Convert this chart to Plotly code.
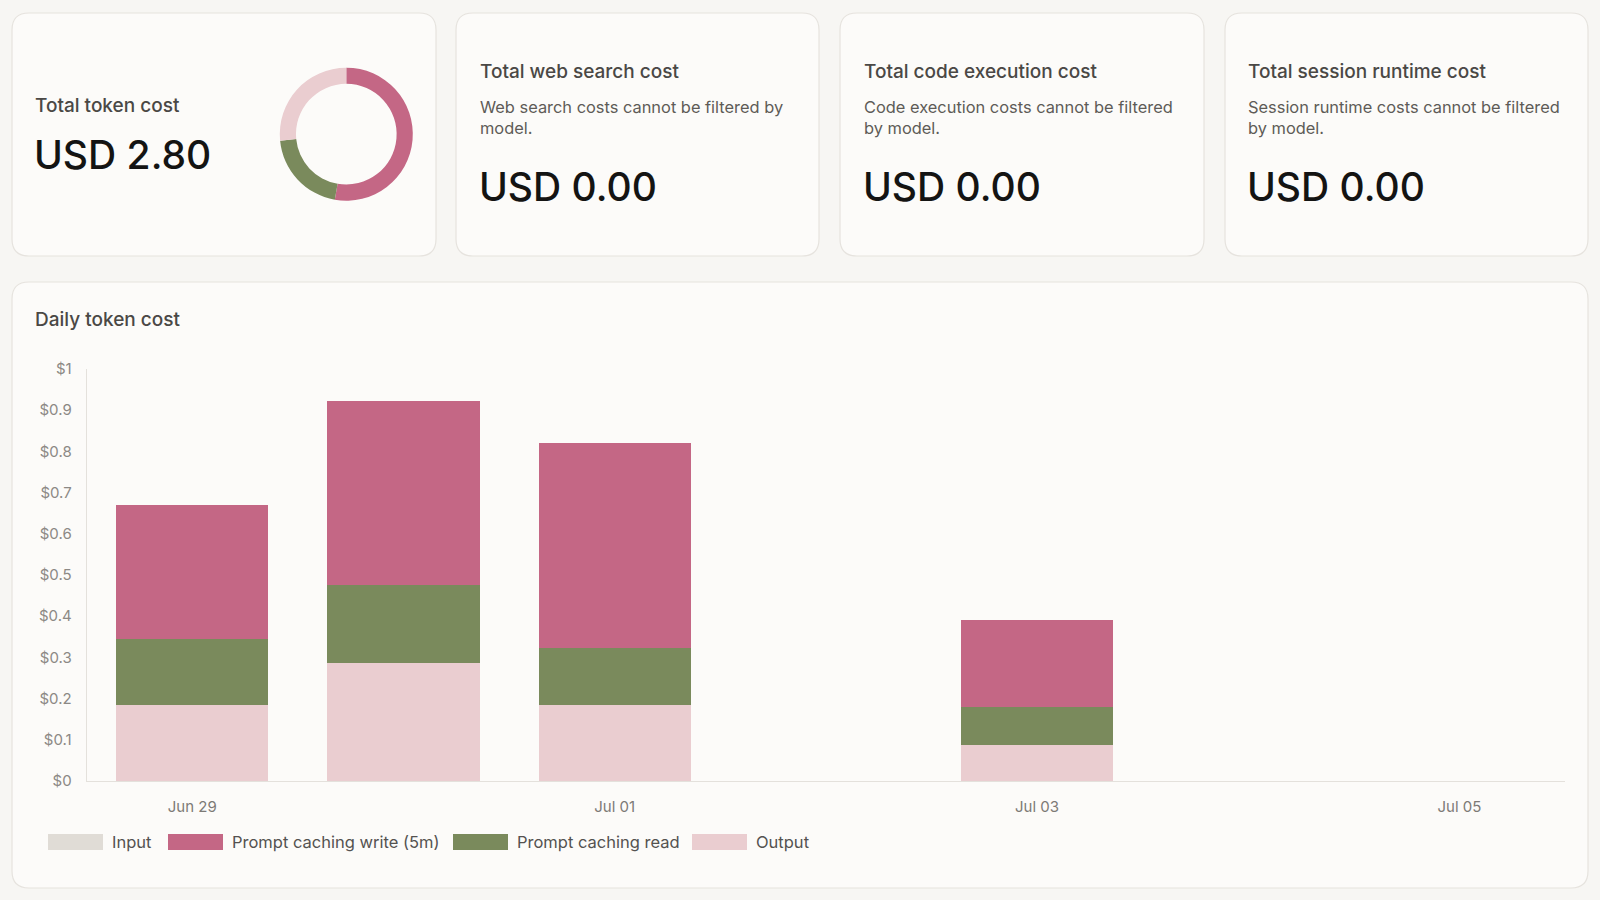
import plotly.graph_objects as go

# ---------------- data ----------------
days = ["Jun 29", "Jun 30", "Jul 01", "Jul 02", "Jul 03", "Jul 04", "Jul 05"]
tick_days = ["Jun 29", "Jul 01", "Jul 03", "Jul 05"]
y_ticks = [0, 0.1, 0.2, 0.3, 0.4, 0.5, 0.6, 0.7, 0.8, 0.9, 1]
y_tick_labels = ["$0", "$0.1", "$0.2", "$0.3", "$0.4", "$0.5", "$0.6", "$0.7", "$0.8", "$0.9", "$1"]
input_cost = [0, 0, 0, 0, 0, 0, 0]
write_cost = [0.324, 0.448, 0.496, 0, 0.211, 0, 0]
read_cost = [0.160, 0.188, 0.140, 0, 0.092, 0, 0]
output_cost = [0.185, 0.287, 0.184, 0, 0.088, 0, 0]
series_names = ["Input", "Prompt caching write (5m)", "Prompt caching read", "Output"]
web_search_cost = 0.00
code_exec_cost = 0.00
session_runtime_cost = 0.00

# ---------------- style ----------------
W, H = 1600, 900
FONT = "Inter"
C_INPUT = "#e0dcd6"
C_WRITE = "#c46785"
C_READ = "#7a8a5c"
C_OUT = "#eacdd0"
PAGE_BG = "#f7f6f3"
CARD_BG = "#fcfbf9"
CARD_BORDER = "#e6e3de"


def px(x):
    return x / W


def py(y):
    return 1 - y / H


def rrect(x0, y0, x1, y1, r):
    rx, ry = r / W, r / H
    X0, X1, Y0, Y1 = px(x0), px(x1), py(y0), py(y1)
    return (f"M {X0+rx},{Y0} L {X1-rx},{Y0} Q {X1},{Y0} {X1},{Y0-ry} "
            f"L {X1},{Y1+ry} Q {X1},{Y1} {X1-rx},{Y1} L {X0+rx},{Y1} "
            f"Q {X0},{Y1} {X0},{Y1+ry} L {X0},{Y0-ry} Q {X0},{Y0} {X0+rx},{Y0} Z")


fig = go.Figure()

# stacked bars (bottom -> top): input, output, read, write
for name, vals, col in [
    ("Input", input_cost, C_INPUT),
    ("Output", output_cost, C_OUT),
    ("Prompt caching read", read_cost, C_READ),
    ("Prompt caching write (5m)", write_cost, C_WRITE),
]:
    fig.add_trace(go.Bar(
        x=days, y=vals, name=name, marker=dict(color=col, line=dict(width=0)),
        showlegend=False, hovertemplate="%{x}<br>" + name + ": $%{y:.2f}<extra></extra>",
    ))

# donut of totals
tot_write = sum(write_cost)
tot_read = sum(read_cost)
tot_out = sum(output_cost)
tot_in = sum(input_cost)
total = tot_write + tot_read + tot_out + tot_in
cx, cy, rad = 346.3, 134.2, 66.5
fig.add_trace(go.Pie(
    labels=["Prompt caching write (5m)", "Prompt caching read", "Output", "Input"],
    values=[tot_write, tot_read, tot_out, tot_in],
    marker=dict(colors=[C_WRITE, C_READ, C_OUT, C_INPUT], line=dict(width=0)),
    hole=0.757, sort=False, direction="clockwise", rotation=0,
    textinfo="none", showlegend=False,
    domain=dict(x=[px(cx - rad), px(cx + rad)], y=[py(cy + rad), py(cy - rad)]),
))

# cards
cards = [(12, 13, 436, 256), (456, 13, 819, 256), (840, 13, 1204, 256),
         (1225, 13, 1588, 256), (12, 282, 1588, 888)]
shapes = []
for c in cards:
    shapes.append(dict(type="path", xref="paper", yref="paper", path=rrect(*c, 17),
                       fillcolor=CARD_BG, line=dict(color=CARD_BORDER, width=1.2), layer="below"))

annotations = []


def txt(x, y, text, size, color, weight=400, yanchor="middle"):
    annotations.append(dict(
        x=px(x), y=py(y), xref="paper", yref="paper", text=text, showarrow=False,
        xanchor="left", yanchor=yanchor, align="left", borderpad=0,
        font=dict(family=FONT, size=size, color=color, weight=weight)))


TITLE_C = "#4a4845"
SUB_C = "#5e5b57"
BIG_C = "#141413"

txt(34, 105, "Total token cost", 19, TITLE_C, 500)
txt(33, 154, f"USD {total:.2f}", 39, BIG_C, 500)

others = [
    (479, "Total web search cost", "Web search costs cannot be filtered by<br>model.", web_search_cost),
    (863, "Total code execution cost", "Code execution costs cannot be filtered<br>by model.", code_exec_cost),
    (1247, "Total session runtime cost", "Session runtime costs cannot be filtered<br>by model.", session_runtime_cost),
]
for x, t, s, v in others:
    txt(x, 72, t, 19, TITLE_C, 500)
    txt(x, 96, s, 16.4, SUB_C, 400, yanchor="top")
    txt(x - 1, 186, f"USD {v:.2f}", 39, BIG_C, 500)

txt(34, 319, "Daily token cost", 19, TITLE_C, 500)

# custom legend
legend_colors = [C_INPUT, C_WRITE, C_READ, C_OUT]
legend_x = [48, 168, 453, 692]
for name, col, lx in zip(series_names, legend_colors, legend_x):
    shapes.append(dict(type="rect", xref="paper", yref="paper",
                       x0=px(lx), x1=px(lx + 55), y0=py(850), y1=py(834),
                       fillcolor=col, line=dict(width=0), layer="above"))
    txt(lx + 63, 842, name, 16.5, "#545250", 400)

AXIS_C = "#e4e1dc"
fig.update_layout(
    width=W, height=H,
    margin=dict(l=0, r=0, t=0, b=0, autoexpand=False),
    paper_bgcolor=PAGE_BG, plot_bgcolor="rgba(0,0,0,0)",
    barmode="stack", bargap=0.28,
    font=dict(family=FONT),
    shapes=shapes, annotations=annotations,
    xaxis=dict(domain=[px(86.7), px(1565)], type="category", categoryorder="array",
               categoryarray=days, range=[-0.5, 6.5],
               tickvals=tick_days, ticktext=tick_days, showgrid=False, zeroline=False,
               showline=True, linecolor=AXIS_C, linewidth=1, ticks="",
               tickfont=dict(family=FONT, size=15, color="#7d7a76"), ticklabelstandoff=12),
    yaxis=dict(domain=[py(781), py(369)], range=[0, 1], tickmode="array",
               tickvals=y_ticks, ticktext=y_tick_labels, showgrid=False, zeroline=False,
               showline=True, linecolor=AXIS_C, linewidth=1, ticks="",
               tickfont=dict(family=FONT, size=15, color="#8c8985"), ticklabelstandoff=11),
)

fig.write_html("out.html")
